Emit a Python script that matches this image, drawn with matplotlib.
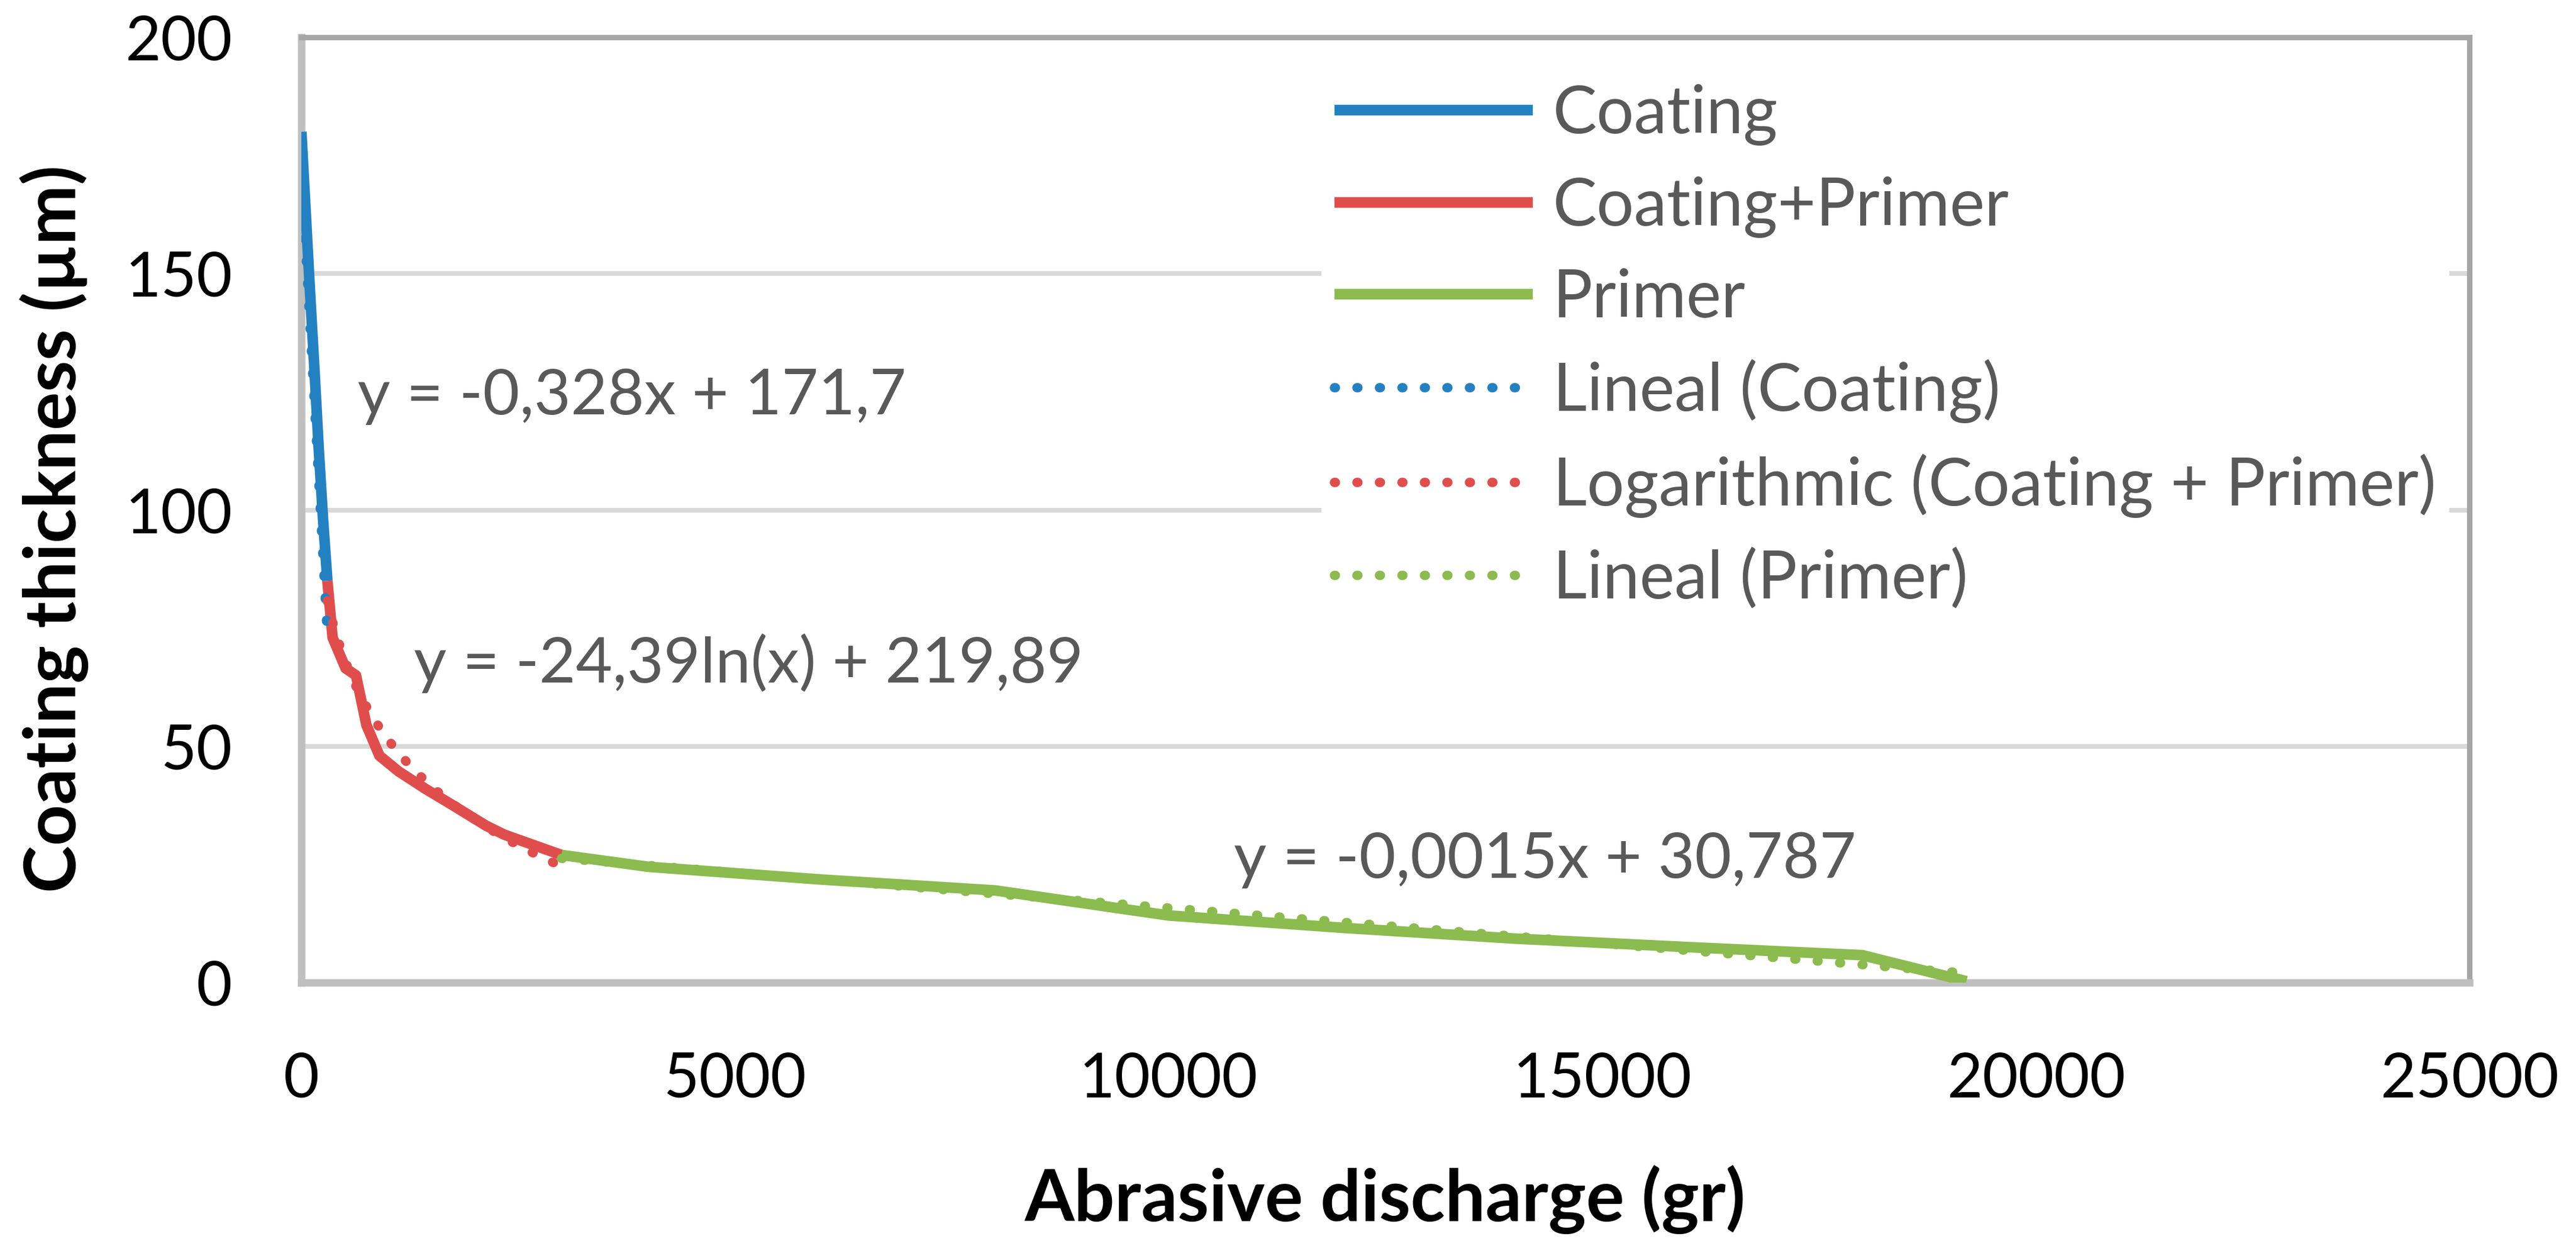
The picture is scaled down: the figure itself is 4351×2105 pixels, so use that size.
import matplotlib
matplotlib.use("Agg")
import matplotlib.pyplot as plt
import numpy as np

plt.rcParams["font.family"] = ["Lato", "DejaVu Sans"]

coating_x = [0, 50, 100, 150, 200, 250, 300]
coating_y = [180, 163, 146, 130, 113, 98, 85]

coat_primer_x = [300, 360, 510, 630, 750, 900, 1120, 1430, 1730, 2130, 2340, 3000]
coat_primer_y = [85, 73, 66.5, 65, 54.5, 48, 44.7, 41, 37.7, 33.2, 31.3, 27]

primer_x = [3000, 4000, 6000, 8000, 10000, 12000, 14000, 16000, 18000, 19200]
primer_y = [27, 24.5, 21.8, 19.5, 14.2, 11.6, 9.3, 7.5, 5.8, 0.3]

# trendline coefficients as printed on the chart
coating_fit = (-0.328, 171.7)
coat_primer_fit = (-24.39, 219.89)
primer_fit = (-0.0015, 30.787)

x_ticks = [0, 5000, 10000, 15000, 20000, 25000]
y_ticks = [0, 50, 100, 150, 200]

BLUE = "#2481C1"
RED = "#DF4E4D"
GREEN = "#8CBB4F"
TEXT_GRAY = "#595959"
FS_TICK = 25
FS_EQ = 25.7
FS_LEG = 26.8
FS_LABEL = 29

fig = plt.figure(figsize=(4351 / 300, 2105 / 300), dpi=300)
ax = fig.add_axes([0.11699, 0.21140, 0.95863 - 0.11699, 0.97007 - 0.21140])

lw = 4.3
ax.plot(coating_x, coating_y, color=BLUE, lw=lw, label="Coating", zorder=3,
        solid_capstyle="butt", solid_joinstyle="round")
ax.plot(coat_primer_x, coat_primer_y, color=RED, lw=lw, label="Coating+Primer", zorder=3,
        solid_capstyle="butt", solid_joinstyle="round")
ax.plot(primer_x, primer_y, color=GREEN, lw=lw, label="Primer", zorder=3,
        solid_capstyle="butt", solid_joinstyle="round")

dot = (0, (0.1, 2.3))
tx = np.array([min(coating_x), max(coating_x)], dtype=float)
ax.plot(tx, coating_fit[0] * tx + coating_fit[1], color=BLUE, lw=3.8, ls=dot,
        dash_capstyle="round", label="Lineal (Coating)", zorder=4)
tx = np.linspace(min(coat_primer_x), max(coat_primer_x), 200)
ax.plot(tx, coat_primer_fit[0] * np.log(tx) + coat_primer_fit[1], color=RED, lw=3.8, ls=dot,
        dash_capstyle="round", label="Logarithmic (Coating + Primer)", zorder=4)
tx = np.array([min(primer_x), max(primer_x)], dtype=float)
ax.plot(tx, primer_fit[0] * tx + primer_fit[1], color=GREEN, lw=3.8, ls=dot,
        dash_capstyle="round", label="Lineal (Primer)", zorder=4)

ax.set_xlim(0, 25000)
ax.set_ylim(0, 200)
ax.set_xticks(x_ticks)
ax.set_yticks(y_ticks)
ax.tick_params(length=0, labelsize=FS_TICK, colors="black")
ax.tick_params(axis="x", pad=28)
ax.tick_params(axis="y", pad=28)
ax.grid(axis="y", color="#D9D9D9", lw=1.9, zorder=0)
ax.set_axisbelow(True)
for side in ["left", "bottom"]:
    ax.spines[side].set_color("#BFBFBF")
    ax.spines[side].set_linewidth(3)
for side in ["top", "right"]:
    ax.spines[side].set_color("#A6A6A6")
    ax.spines[side].set_linewidth(2.2)

ax.set_xlabel("Abrasive discharge (gr)", fontsize=FS_LABEL, fontweight="bold")
ax.set_ylabel("Coating thickness (µm)", fontsize=FS_LABEL, fontweight="bold")
ax.xaxis.set_label_coords(0.5, -0.193)
ax.yaxis.set_label_coords(-0.098, 0.48)

ax.text(650, 124, "y = -0,328x + 171,7", fontsize=FS_EQ, color=TEXT_GRAY, va="center", ha="left")
ax.text(1300, 67.6, "y = -24,39ln(x) + 219,89", fontsize=FS_EQ, color=TEXT_GRAY, va="center", ha="left")
ax.text(10750, 25.9, "y = -0,0015x + 30,787", fontsize=FS_EQ, color=TEXT_GRAY, va="center", ha="left")

leg = ax.legend(loc="upper left", bbox_to_anchor=(2232 / 4351, 0.943),
                bbox_transform=fig.transFigure, fontsize=FS_LEG, frameon=True,
                borderpad=0.2, borderaxespad=0, handlelength=3.0, handletextpad=0.3,
                labelspacing=0.46)
leg.get_frame().set_facecolor("white")
leg.get_frame().set_edgecolor("none")
leg.get_frame().set_alpha(1)
for t in leg.get_texts():
    t.set_color(TEXT_GRAY)

fig.savefig("out.png", dpi=300, facecolor="white")
